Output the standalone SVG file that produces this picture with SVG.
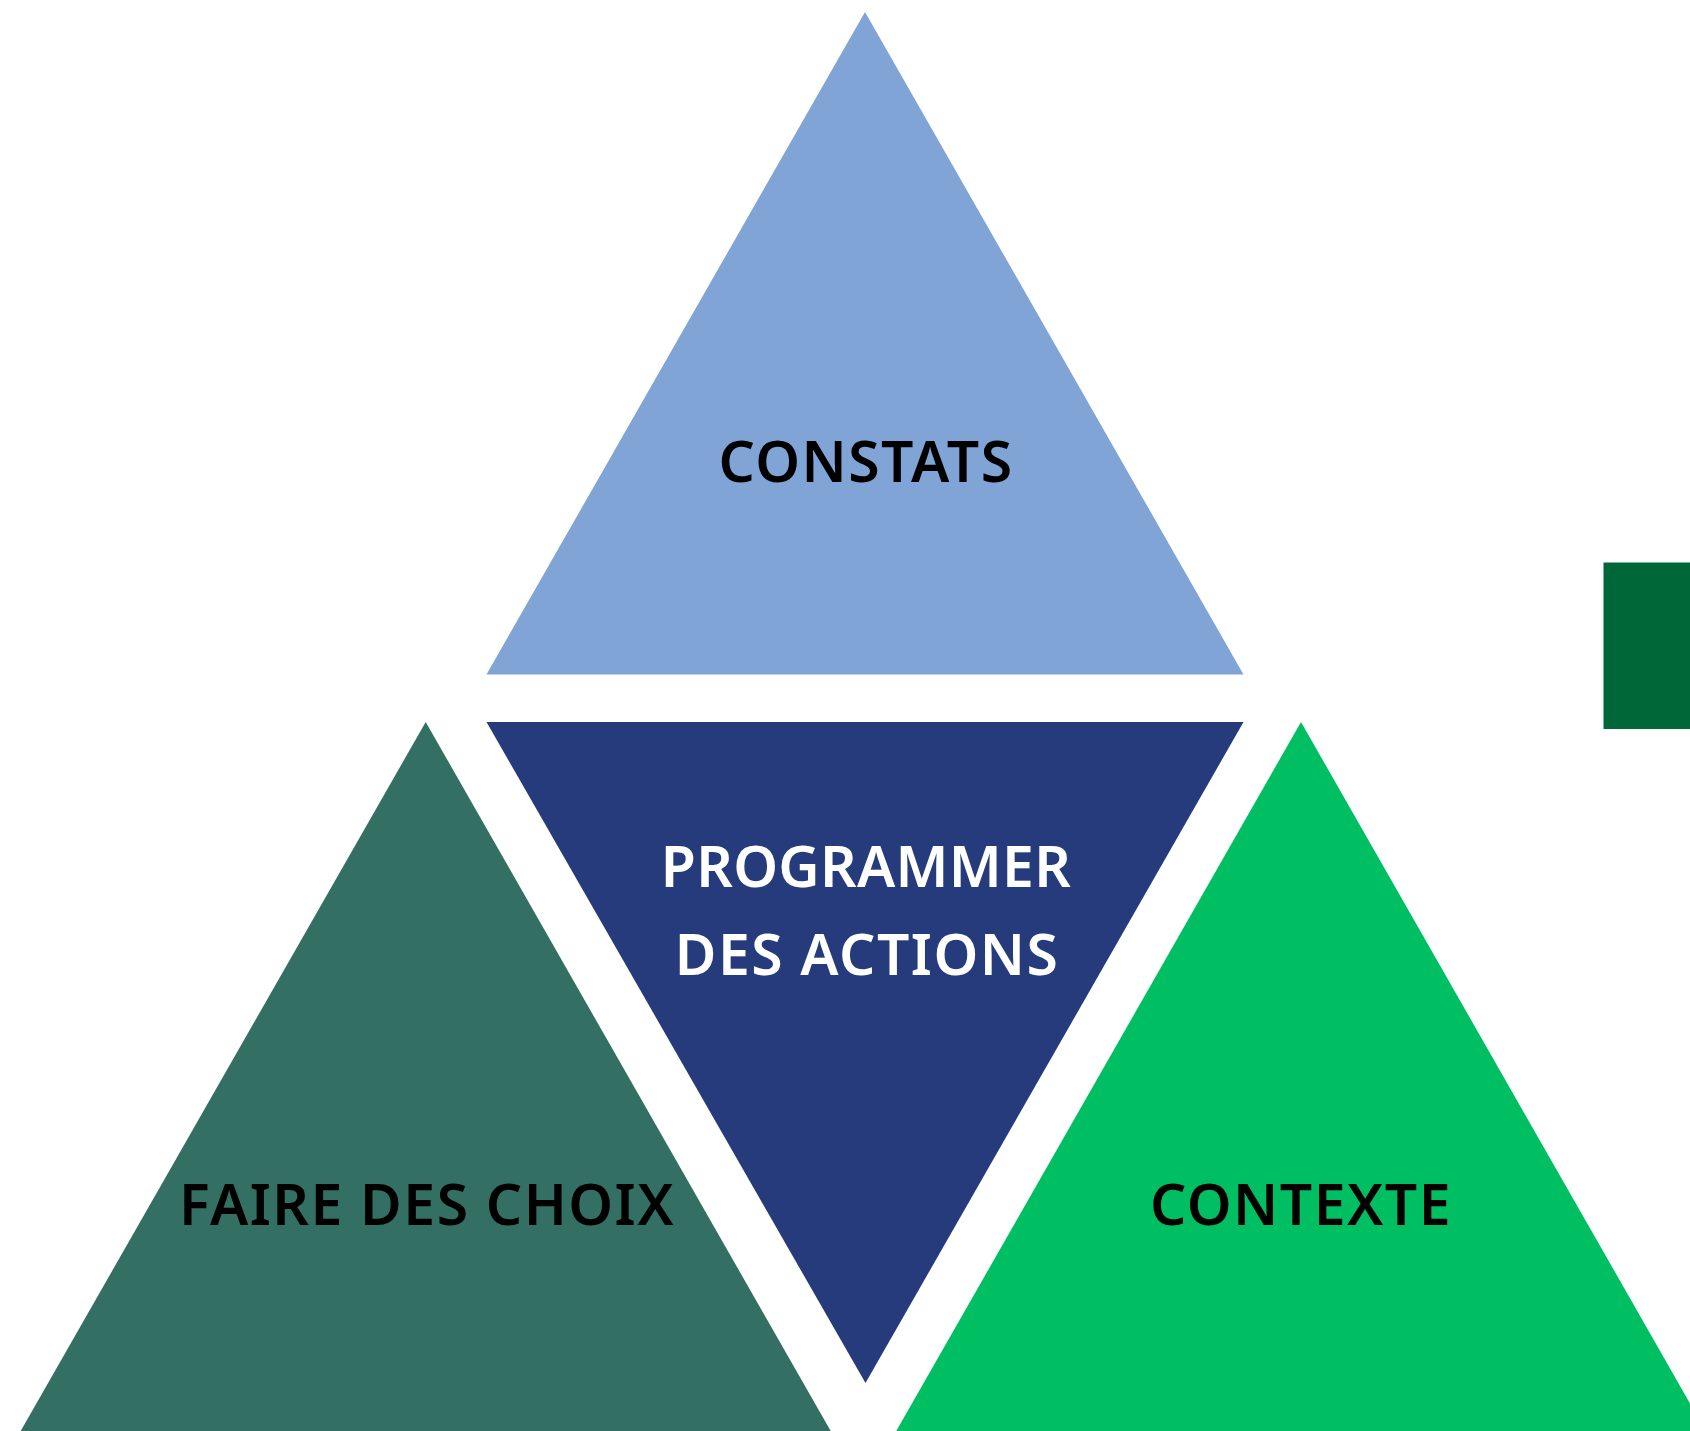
<svg xmlns="http://www.w3.org/2000/svg" width="1690" height="1431" viewBox="0 0 1690 1431">
<style>
.lbl{font-family:"Noto Sans","Liberation Sans",sans-serif;font-size:57px;font-weight:600;text-anchor:middle;letter-spacing:1.5px}
.dark{fill:#000000}
.light{fill:#ffffff}
.tight{letter-spacing:0.3px}
</style>
<rect width="1690" height="1431" fill="#ffffff"/>
<g id="connectors"></g>
<g id="constats">
<polygon points="865,12 1243.5,674.5 486.5,674.5" fill="#7FA4D5"/>
<text class="lbl dark" x="866" y="482">CONSTATS</text>
</g>
<g id="programmer">
<polygon points="486.5,722 1243.5,722 865.5,1383" fill="#263B7B"/>
<text class="lbl light tight" x="866" y="887">PROGRAMMER</text>
<text class="lbl light" x="867" y="975">DES ACTIONS</text>
</g>
<g id="faire-des-choix">
<polygon points="425.7,722 857,1477 -5.6,1477" fill="#336F62"/>
<text class="lbl dark" x="427" y="1225">FAIRE DES CHOIX</text>
</g>
<g id="contexte">
<polygon points="1301,722 1732,1477 870,1477" fill="#00BF63"/>
<text class="lbl dark" x="1301" y="1225">CONTEXTE</text>
</g>
<g id="side-rect">
<rect x="1603.5" y="562.5" width="90" height="166.5" fill="#006838"/>
</g>
</svg>
